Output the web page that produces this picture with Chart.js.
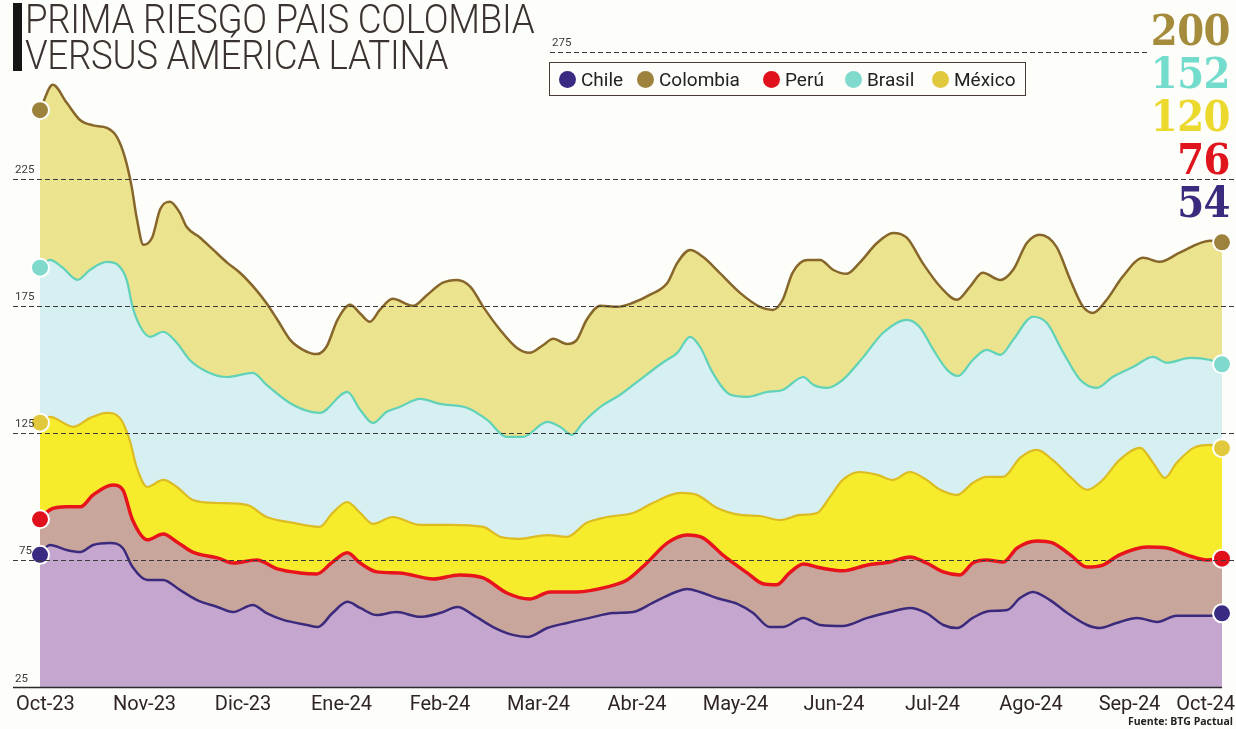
<!DOCTYPE html>
<html><head><meta charset="utf-8">
<script src="https://cdn.jsdelivr.net/npm/chart.js@4.4.1/dist/chart.umd.min.js"></script>
<style>
html,body{margin:0;padding:0;background:#fdfdf9;}
#wrap{position:relative;width:1236px;height:729px;overflow:hidden;background:#fdfdf9;}
#c{position:absolute;left:0;top:0;}
.bar{position:absolute;left:13px;top:3px;width:9px;height:68px;background:#151515;}
.title{position:absolute;left:25px;font-family:Roboto,sans-serif;font-weight:300;font-size:40px;line-height:40px;color:#3b3331;white-space:nowrap;letter-spacing:-0.3px;transform:scaleX(0.917);transform-origin:0 0;}
#legend{position:absolute;left:549px;top:62px;width:475px;height:32px;border:1.5px solid #4a3a35;box-sizing:content-box;}
#legend span.i{position:absolute;top:0;height:32px;display:flex;align-items:center;font-family:Roboto,sans-serif;font-size:19px;color:#222;white-space:nowrap;}
#legend span.d{display:inline-block;width:17px;height:17px;border-radius:50%;margin-right:5px;}
.big{position:absolute;right:6px;font-family:'DejaVu Serif Condensed','DejaVu Serif',serif;font-weight:700;font-size:43px;line-height:43px;letter-spacing:-0.5px;}
.src{position:absolute;right:3px;bottom:1px;font-family:'Open Sans',sans-serif;font-weight:700;font-size:10.5px;color:#222;}
</style></head>
<body><div id="wrap">
<canvas id="c" width="1236" height="729"></canvas>
<div class="bar"></div>
<div class="title" style="top:0px">PRIMA RIESGO PAIS COLOMBIA</div>
<div class="title" style="top:36px">VERSUS AMÉRICA LATINA</div>
<div id="legend"></div>
<div class="big" style="top:9px;color:#a48c3c">200</div>
<div class="big" style="top:52px;color:#74dccd">152</div>
<div class="big" style="top:95px;color:#ecd92e">120</div>
<div class="big" style="top:138px;color:#e0141c">76</div>
<div class="big" style="top:181px;color:#3b2a7e">54</div>
<div class="src">Fuente: BTG Pactual</div>
</div>
<script>
// ---- data: [month index since Oct-23, spread in basis points] ----
const monthLabels = ['Oct-23','Nov-23','Dic-23','Ene-24','Feb-24','Mar-24','Abr-24','May-24','Jun-24','Jul-24','Ago-24','Sep-24','Oct-24'];
const yTickValues = [25,75,125,175,225,275];
const seriesNames = ['Chile','Colombia','Perú','Brasil','México'];

const colombia = [[0,252],[0.13,262],[0.27,255],[0.41,248],[0.54,246],[0.68,245],[0.78,241.5],[0.86,233.7],[0.93,222],[0.98,210],[1.05,199],[1.14,202],[1.22,213],[1.32,216],[1.42,211.6],[1.49,206],[1.62,202],[1.76,197],[1.90,192],[2.03,188],[2.20,181],[2.30,176],[2.41,169.5],[2.54,161.6],[2.67,157.7],[2.81,156],[2.91,159],[3.02,169.5],[3.15,175.4],[3.25,172],[3.35,168.7],[3.45,173.4],[3.58,177.8],[3.79,175],[3.93,179.3],[4.09,184.1],[4.23,185.2],[4.37,182.5],[4.50,174.6],[4.67,165.6],[4.84,158.5],[4.97,156.5],[5.11,159.6],[5.21,162],[5.35,160],[5.45,161.6],[5.55,169.5],[5.69,175],[5.86,174.6],[6.02,176.2],[6.19,179.3],[6.37,184.1],[6.47,191.9],[6.60,197],[6.73,194.3],[6.90,188],[7.11,180],[7.31,174.6],[7.44,173.4],[7.54,177.4],[7.64,188],[7.79,193],[7.92,193],[8.05,189.2],[8.19,187.6],[8.32,191.9],[8.50,199.8],[8.66,203.7],[8.80,201.8],[8.96,191.9],[9.14,182.5],[9.31,177.4],[9.44,182.5],[9.57,188],[9.75,185.2],[9.88,189.2],[10.02,199.8],[10.15,203],[10.32,198.2],[10.46,185.2],[10.59,174.6],[10.69,172.2],[10.83,177.4],[10.99,186.4],[11.20,193.9],[11.37,192.3],[11.57,195.9],[11.88,200.6],[12,200]];

const brasil = [[0,190],[0.10,193.1],[0.23,190],[0.38,185.2],[0.51,189.2],[0.68,192.3],[0.79,191.1],[0.88,185.2],[0.94,174.6],[1.02,166.7],[1.12,162.8],[1.25,164.8],[1.39,160.4],[1.52,153.7],[1.70,149],[1.90,147],[2.16,148.6],[2.30,143.9],[2.57,136],[2.84,132.9],[3.12,141.1],[3.25,134.1],[3.38,128.9],[3.52,133.3],[3.65,135.2],[3.86,138.4],[4.06,136.4],[4.34,134.8],[4.54,130.1],[4.74,123.4],[4.90,123.4],[5.15,129.3],[5.28,127.4],[5.40,124.2],[5.51,128.9],[5.69,135.2],[5.89,140],[6.09,145.9],[6.32,152.6],[6.47,156.5],[6.60,162.8],[6.70,158.9],[6.83,148.6],[7.01,140],[7.18,139.2],[7.38,141.1],[7.54,141.9],[7.75,147],[7.85,143.9],[7.99,142.7],[8.15,145.9],[8.36,154.9],[8.56,164.4],[8.80,169.5],[8.93,166.7],[9.07,157.7],[9.21,149.8],[9.32,147.4],[9.47,153.7],[9.61,157.7],[9.75,155.7],[9.88,161.6],[10.08,170.7],[10.22,168.3],[10.39,156.5],[10.56,145.9],[10.73,142.7],[10.89,147],[11.10,151],[11.30,154.9],[11.44,152.6],[11.68,154.5],[11.88,153.7],[12,152]];

const mexico = [[0,129],[0.10,131.3],[0.34,127.4],[0.51,130.9],[0.68,132.9],[0.81,130.9],[0.91,122.2],[0.98,111.6],[1.09,103.7],[1.25,106.5],[1.39,103.7],[1.55,98.6],[1.80,97.4],[2.10,96.7],[2.30,91.9],[2.57,89.6],[2.84,88],[2.97,93.5],[3.12,97.8],[3.25,93.5],[3.38,89.2],[3.58,91.9],[3.86,88.8],[4.16,88.8],[4.50,88],[4.67,84.1],[4.87,83.3],[5.15,84.8],[5.35,84.1],[5.55,89.6],[5.76,91.9],[6.02,93.5],[6.22,97.4],[6.50,101.4],[6.67,100.6],[6.87,95.5],[7.11,92.7],[7.31,92.3],[7.51,90.7],[7.72,92.7],[7.89,93.5],[8.02,99.8],[8.15,106.5],[8.32,109.6],[8.50,108.5],[8.66,106.5],[8.83,109.6],[9.00,106.5],[9.14,102.6],[9.31,100.6],[9.47,105.3],[9.61,107.7],[9.78,107.7],[9.95,115.2],[10.12,118.3],[10.28,114.4],[10.46,107.7],[10.63,102.6],[10.79,106.5],[10.96,114.4],[11.17,119.1],[11.30,113.2],[11.42,107.3],[11.54,113.2],[11.71,119.1],[11.88,120.3],[12,119]];

const peru = [[0,91],[0.10,94.7],[0.27,95.9],[0.41,95.9],[0.54,100.6],[0.74,104.5],[0.84,102.6],[0.94,90.7],[1.09,82.9],[1.25,85.2],[1.39,82.1],[1.55,78.1],[1.80,75.8],[1.96,73.8],[2.20,75],[2.41,71.5],[2.64,69.9],[2.81,69.5],[2.97,74.2],[3.12,77.8],[3.25,73.8],[3.42,70.3],[3.65,69.9],[3.99,67.5],[4.26,69.1],[4.50,67.9],[4.74,62],[4.97,59.6],[5.18,62.4],[5.45,62.4],[5.76,64.4],[5.96,67.1],[6.16,73.8],[6.37,81.7],[6.57,84.8],[6.73,83.7],[6.93,77],[7.18,69.9],[7.34,65.6],[7.48,65.2],[7.61,69.9],[7.75,73.4],[7.92,71.9],[8.15,70.7],[8.40,73],[8.63,74.2],[8.83,76.2],[9.00,73.8],[9.17,70.3],[9.34,69.1],[9.47,73.8],[9.61,75],[9.78,74.2],[9.92,79.7],[10.12,82.5],[10.28,81.7],[10.46,77],[10.63,72.2],[10.79,73],[10.96,77],[11.24,80.1],[11.44,79.7],[11.64,77],[11.85,75],[12,75.5]];

const chile = [[0,77],[0.10,80.9],[0.27,78.9],[0.41,78.1],[0.54,80.9],[0.71,81.7],[0.84,79.7],[0.94,72.2],[1.09,67.1],[1.25,67.1],[1.42,63.2],[1.59,59.3],[1.80,56.5],[1.96,54.5],[2.16,57.3],[2.30,54.1],[2.47,51.4],[2.71,49.4],[2.82,48.6],[2.97,54.1],[3.12,58.5],[3.25,56.1],[3.42,53.3],[3.62,54.5],[3.86,52.6],[4.06,54.1],[4.24,56.5],[4.40,53.3],[4.60,48.6],[4.80,45.5],[4.95,44.7],[5.15,48.2],[5.35,50.2],[5.58,52.2],[5.82,54.1],[6.02,54.5],[6.22,58.1],[6.43,62],[6.57,63.6],[6.70,62.4],[6.87,60],[7.08,57.7],[7.24,54.1],[7.41,48.6],[7.54,48.6],[7.75,52.2],[7.92,49.4],[8.15,49],[8.40,52.2],[8.63,54.5],[8.83,56.1],[9.00,54.1],[9.17,49.4],[9.31,48.2],[9.47,52.2],[9.64,54.9],[9.82,55.3],[9.95,60],[10.08,62.4],[10.25,59.3],[10.43,54.1],[10.63,49.4],[10.76,48.2],[10.93,50.2],[11.14,52.2],[11.34,50.6],[11.54,53],[11.88,53],[12,54]];

// ---- styling ----
const styles = {
  'Chile':    {line:'#3b2a7c', fill:'#c5a6cf', dot:'#3a2a82', w:2.5, order:0, lx:558},
  'Colombia': {line:'#86662a', fill:'#ebe38e', dot:'#9c823c', w:2.5, order:4, lx:636},
  'Perú':     {line:'#e8141c', fill:'#c9a69c', dot:'#e0101c', w:3.5, order:1, lx:762},
  'Brasil':   {line:'#5fd2b8', fill:'#d6eff0', dot:'#7fd9cd', w:2.2, order:3, lx:844},
  'México':   {line:'#dcbc22', fill:'#f6ec2c', dot:'#e2c83c', w:2.2, order:2, lx:931}
};
const seriesData = {'Chile':chile,'Colombia':colombia,'Perú':peru,'Brasil':brasil,'México':mexico};

// legend
const lg = document.getElementById('legend');
seriesNames.forEach(n=>{
  const s=document.createElement('span'); s.className='i';
  s.style.left=(styles[n].lx-549)+'px';
  s.innerHTML='<span class="d" style="background:'+styles[n].dot+'"></span>'+n;
  lg.appendChild(s);
});

const datasets = seriesNames.map(n=>{
  const st=styles[n]; const pts=seriesData[n].map(p=>({x:p[0],y:p[1]}));
  return {
    label:n, data:pts, order:st.order,
    borderColor:st.line, backgroundColor:st.fill, borderWidth:st.w,
    fill:'start', cubicInterpolationMode:'monotone', clip:false,
    pointRadius:(c)=> (c.dataIndex===0||c.dataIndex===pts.length-1)?9:0,
    pointBackgroundColor:st.dot, pointBorderColor:'#ffffff', pointBorderWidth:2,
    pointHoverRadius:0
  };
});

const decor = {
  id:'decor',
  afterDatasetsDraw(chart){
    const {ctx, scales:{x,y}} = chart;
    ctx.save();
    ctx.strokeStyle='#3a3a3a'; ctx.lineWidth=1; ctx.setLineDash([5,3]);
    ctx.font='11.5px "Liberation Sans Narrow","Roboto",sans-serif';
    ctx.fillStyle='#3a3a3a'; ctx.textBaseline='alphabetic';
    yTickValues.forEach(v=>{
      const py=Math.round(y.getPixelForValue(v))+0.5;
      if(v===yTickValues[0]){
        ctx.setLineDash([]); ctx.lineWidth=1.5; ctx.strokeStyle='#2a2a2a';
        ctx.beginPath(); ctx.moveTo(13,py); ctx.lineTo(x.getPixelForValue(12),py); ctx.stroke();
        ctx.fillText(String(v),15,py-6);
        ctx.setLineDash([5,3]); ctx.lineWidth=1; ctx.strokeStyle='#3a3a3a';
        return;
      }
      let x0=13, x1=1236, lx=15;
      if(v===yTickValues[yTickValues.length-1]){ x0=550; x1=1150; lx=552; }
      ctx.beginPath(); ctx.moveTo(x0,py); ctx.lineTo(x1,py); ctx.stroke();
      ctx.fillText(String(v), lx + (v<100?4:0), py-7);
    });
    ctx.setLineDash([]);
    ctx.font='20px Roboto,sans-serif'; ctx.fillStyle='#2e2424'; ctx.textBaseline='alphabetic';
    monthLabels.forEach((m,i)=>{
      let px=x.getPixelForValue(i)+6;
      ctx.textAlign='center';
      if(i===0){ctx.textAlign='left'; px=16;}
      if(i===monthLabels.length-1){ctx.textAlign='right'; px=1235;}
      ctx.fillText(m,px,710);
    });
    ctx.restore();
  }
};

new Chart(document.getElementById('c'),{
  type:'line',
  data:{datasets},
  options:{
    responsive:false, animation:false, events:[],
    layout:{padding:{left:40,right:14,top:39,bottom:42}},
    plugins:{legend:{display:false},tooltip:{enabled:false}},
    scales:{
      x:{type:'linear',min:0,max:12,display:false},
      y:{type:'linear',min:25,max:280,display:false}
    }
  },
  plugins:[decor]
});
</script>
</body></html>
